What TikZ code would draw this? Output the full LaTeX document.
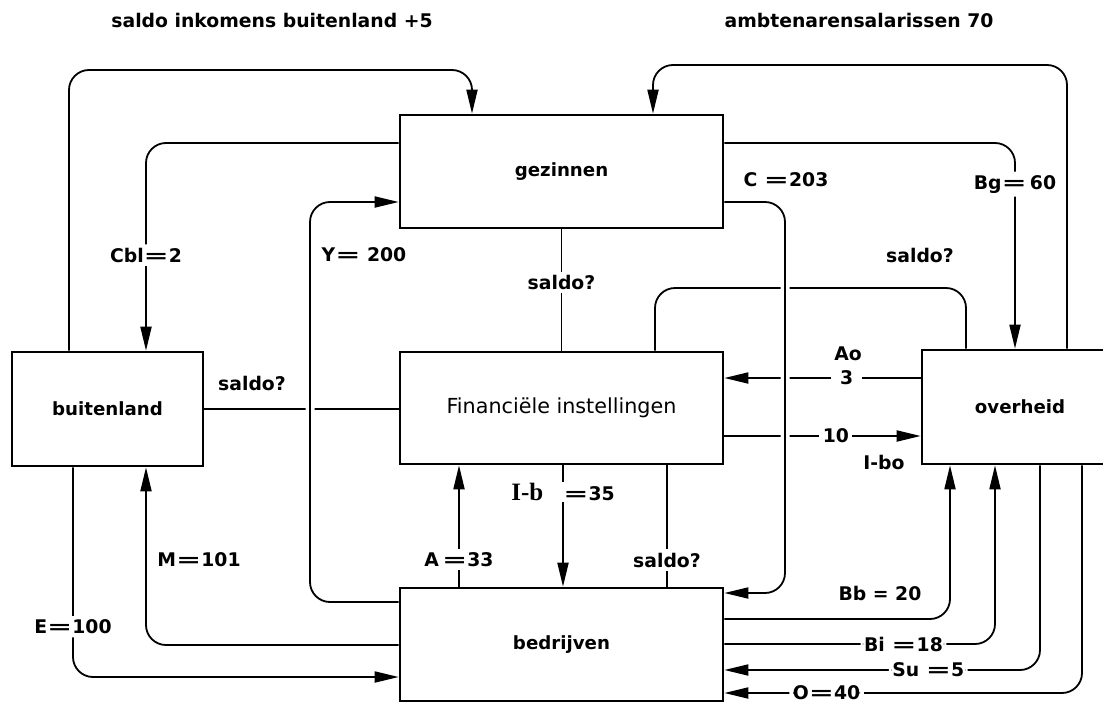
\documentclass[tikz,border=0pt]{standalone}
\usepackage{graphicx}
\usepackage{fontspec}
\setmainfont{DejaVu Sans}
\newfontfamily\ibfont{Liberation Serif}
\usetikzlibrary{arrows.meta}
\pgfdeclarelayer{back}
\pgfsetlayers{back,main}
\newcommand{\eqs}{\scalebox{1.6}[1]{=}}
\newcommand{\labfont}{\fontsize{18.8}{21}\selectfont\bfseries}
\newcommand{\boxfont}{\fontsize{18.2}{21}\selectfont\bfseries}
\begin{document}
\begin{tikzpicture}[x=1pt,y=-1pt,
  blk/.style={draw, line width=2.6pt, fill=white, font=\boxfont, inner sep=0pt},
  conn/.style={line width=1.8pt},
  arr/.style={conn, -{Triangle[length=24pt,width=11pt]}},
  rc/.style={rounded corners=20pt},
  lab/.style={font=\labfont, fill=white, inner sep=3.5pt},
  txt/.style={font=\labfont, inner sep=0pt},
  casing/.style={preaction={draw=white, line width=9pt, -}}
]
\path[use as bounding box] (0,0) rectangle (1103,704);
\clip (0,0) rectangle (1103,704);

% boxes
\node[blk, minimum width=323pt, minimum height=113pt] (gez) at (561.5,171.5) {gezinnen};
\node[blk, minimum width=323pt, minimum height=112pt, font=\fontsize{20.7}{24}\selectfont] (fin) at (561.5,408) {Financiële instellingen};
\node[blk, minimum width=323pt, minimum height=113pt] (bed) at (561.5,644.5) {bedrijven};
\node[blk, minimum width=191pt, minimum height=114pt] (bui) at (107.5,409) {buitenland};
\node[blk, minimum width=196pt, minimum height=114pt] (ov) at (1020,407) {overheid};

% helper levels
\coordinate (X69) at (69,0);
\coordinate (X73) at (73,0);
\coordinate (X146) at (146,0);
\coordinate (X310) at (310,0);
\coordinate (X459) at (459,0);
\coordinate (X472) at (472,0);
\coordinate (X563) at (563,0);
\coordinate (X653) at (653,0);
\coordinate (X655) at (655,0);
\coordinate (X667) at (667,0);
\coordinate (X785) at (785,0);
\coordinate (X950) at (950,0);
\coordinate (X966) at (966,0);
\coordinate (X995) at (995,0);
\coordinate (X1015) at (1015,0);
\coordinate (X1040) at (1040,0);
\coordinate (X1067) at (1067,0);
\coordinate (X1082) at (1082,0);
\coordinate (Y65) at (0,65);
\coordinate (Y70) at (0,70);
\coordinate (Y143) at (0,143);
\coordinate (Y202) at (0,202);
\coordinate (Y288) at (0,288);
\coordinate (Y378) at (0,378);
\coordinate (Y436) at (0,436);
\coordinate (Y593) at (0,593);
\coordinate (Y602) at (0,602);
\coordinate (Y619) at (0,619);
\coordinate (Y644) at (0,644);
\coordinate (Y645) at (0,645);
\coordinate (Y671) at (0,670);
\coordinate (Y677) at (0,677);
\coordinate (Y694) at (0,693);

\begin{pgfonlayer}{back}
\draw[arr,rc] (bui.north -| X69) |- (X472 |- Y70) -- (gez.north -| X472);
\draw[arr,rc] (ov.north -| X1067) |- (X653 |- Y65) -- (gez.north -| X653);
\draw[arr,rc] (gez.west |- Y143) -| node[lab,pos=0.77]{Cbl\eqs2} (bui.north -| X146);
\draw[arr,rc] (gez.east |- Y143) -| node[lab,pos=0.6]{Bg\eqs\,60} (ov.north -| X1015);
\draw[conn] (gez.south) -- node[lab,pos=0.44]{saldo?} (fin.north);
\draw[conn] (bui.east) -- (bui.east -| fin.west);
\draw[conn,rc] (fin.north -| X655) |- (X966 |- Y288) -- (ov.north -| X966);
\draw[arr] (ov.west |- Y378) -- node[lab,pos=0.377,inner xsep=9pt]{3} (fin.east |- Y378);
\draw[arr] (fin.east |- Y436) -- node[lab,pos=0.568]{10} (ov.west |- Y436);
\draw[arr] (fin.south -| X563) -- node[fill=white, inner sep=1pt, pos=0.218]{{\ibfont\bfseries\fontsize{25}{28}\selectfont I-b}\hspace{20pt}{\labfont\eqs35}} (bed.north -| X563);
\draw[arr] (bed.north -| X459) -- node[lab,pos=0.226]{A\,\eqs33} (fin.south -| X459);
\draw[conn] (fin.south -| X667) -- node[lab,pos=0.78]{saldo?} (bed.north -| X667);
\draw[arr,rc] (bed.west |- Y645) -| (bui.south -| X146);
\draw[arr,rc] (bui.south -| X73) |- node[lab,pos=0.38]{E\eqs100} (bed.west |- Y677);
\draw[arr,rc] (bed.east |- Y619) -| (ov.south -| X950);
\draw[arr,rc] (bed.east |- Y644) -| node[lab,pos=0.331]{Bi \eqs18} (ov.south -| X995);
\draw[arr,rc] (ov.south -| X1040) |- node[lab,pos=0.677]{Su \eqs5} (bed.east |- Y671);
\draw[arr,rc] (ov.south -| X1082) |- node[lab,pos=0.857,inner ysep=1pt]{O\eqs40} (bed.east |- Y694);
\draw[arr,rc,casing] (bed.west |- Y602) -| (X310 |- Y202) -- (gez.west |- Y202);
\draw[arr,rc,casing] (gez.east |- Y202) -| (X785 |- Y593) -- (bed.east |- Y593);
\end{pgfonlayer}

% free labels
\node[txt] (tS) at (272,20) {saldo inkomens buitenland +5};
\node[txt] (tA) at (859,20) {ambtenarensalarissen 70};
\node[txt] (lY) at (364,255) {Y\eqs\ 200};
\node[txt] (lC) at (786,180) {C \eqs203};
\node[txt] (lS1) at (920,255) {saldo?};
\node[txt] (lS2) at (252,383) {saldo?};
\node[txt] (lAo) at (848,354) {Ao};
\node[txt] (lIbo) at (884,462) {I-bo};
\node[txt] (lM) at (199,560) {M\eqs101};
\node[txt] (lBb) at (880,593) {Bb = 20};
\end{tikzpicture}
\end{document}
